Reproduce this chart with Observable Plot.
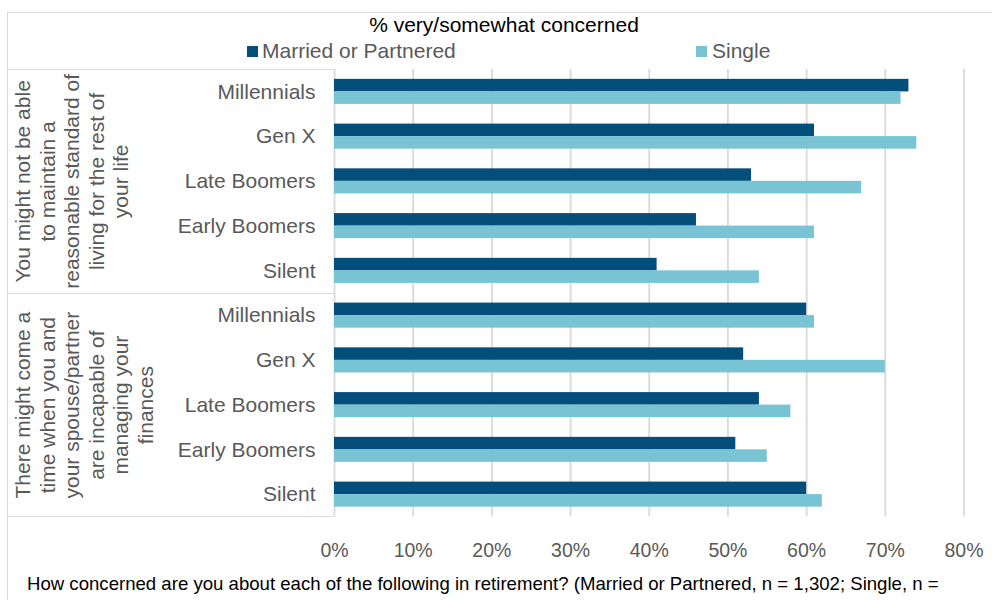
<!DOCTYPE html>
<html>
<head>
<meta charset="utf-8">
<script src="https://cdn.jsdelivr.net/npm/d3@7"></script>
<script src="https://cdn.jsdelivr.net/npm/@observablehq/plot@0.6"></script>
<style>
  html, body { margin: 0; padding: 0; background: #fff; }
  body { font-family: "Liberation Sans", Arial, sans-serif; }
  #wrap { position: relative; width: 992px; height: 600px; overflow: hidden; }
  .frame { position: absolute; left: 7px; top: 12px; width: 2000px; height: 2000px;
           border-left: 1.5px solid #d9d9d9; border-top: 1.5px solid #d9d9d9; box-sizing: border-box; }
  .hline { position: absolute; left: 7px; width: 327px; height: 0; border-top: 1.5px solid #d9d9d9; }
  .title { position: absolute; left: 504px; top: 14px; transform: translateX(-50%);
           font-size: 21px; line-height: 21px; color: #000; white-space: nowrap; }
  .sw { position: absolute; width: 11px; height: 11px; }
  .lt { position: absolute; font-size: 21px; line-height: 21px; color: #595959; white-space: nowrap; }
  .caption { position: absolute; left: 27px; top: 575px; font-size: 18.6px; line-height: 18.6px; color: #000; white-space: nowrap; }
  #chart { position: absolute; left: 0; top: 0; }
</style>
</head>
<body>
<div id="wrap">
  <div class="frame"></div>
  <div class="hline" style="top:68.5px"></div>
  <div class="hline" style="top:292.5px"></div>
  <div class="hline" style="top:516px"></div>
  <div id="chart"></div>
  <div class="title" id="title"></div>
  <div id="legend"></div>
  <div class="caption" id="caption"></div>
</div>
<script>
// ---- data ----
const chartTitle = "% very/somewhat concerned";
const captionText = "How concerned are you about each of the following in retirement? (Married or Partnered, n = 1,302; Single, n =";
const questions = [
  "You might not be able\nto maintain a\nreasonable standard of\nliving for the rest of\nyour life",
  "There might come a\ntime when you and\nyour spouse/partner\nare incapable of\nmanaging your\nfinances"
];
const generations = ["Millennials", "Gen X", "Late Boomers", "Early Boomers", "Silent"];
const seriesNames = ["Married or Partnered", "Single"];
const seriesColors = ["#044e7b", "#78c4d4"];
// values in %, question 1 (5 generations) then question 2 (5 generations)
const married = [73, 61, 53, 46, 41, 60, 52, 54, 51, 60];
const single  = [72, 74, 67, 61, 54, 61, 70, 58, 55, 62];
const xTicks = [0, 10, 20, 30, 40, 50, 60, 70, 80];

// ---- build table ----
const keys = [];
const rows = [];
questions.forEach((q, qi) => {
  generations.forEach((g, gi) => {
    const i = qi * generations.length + gi;
    const key = qi + "|" + g;
    keys.push(key);
    rows.push({key, series: seriesNames[0], value: married[i]});
    rows.push({key, series: seriesNames[1], value: single[i]});
  });
});
const groupLabels = questions.map((q, qi) => ({key: qi + "|" + generations[2], text: q}));

const chart = Plot.plot({
  width: 992,
  height: 600,
  marginTop: 69,
  marginBottom: 83.5,
  marginLeft: 334,
  marginRight: 28.5,
  style: {color: "#595959", fontFamily: "'Liberation Sans', Arial, sans-serif", background: "transparent"},
  x: {domain: [0, 80], label: null},
  y: {domain: keys, paddingInner: 0.44, paddingOuter: 0.22, round: false, label: null},
  color: {domain: seriesNames, range: seriesColors},
  marks: [
    Plot.gridX(xTicks, {stroke: "#d9d9d9", strokeOpacity: 1, strokeWidth: 1.8}),
    Plot.barX(rows.filter(d => d.series === seriesNames[0]), {x: "value", y: "key", fill: "series", insetBottom: 12.5}),
    Plot.barX(rows.filter(d => d.series === seriesNames[1]), {x: "value", y: "key", fill: "series", insetTop: 12.5}),
    Plot.axisX(xTicks, {tickSize: 0, tickPadding: 26, fontSize: 19.5, tickFormat: d => d + "%", label: null}),
    Plot.axisY({tickSize: 0, tickPadding: 19, fontSize: 21, tickFormat: k => k.split("|")[1], label: null}),
    Plot.text(groupLabels, {
      y: "key", text: "text", frameAnchor: "left", dx: -322,
      rotate: -90, textAnchor: "middle", lineAnchor: "top", lineHeight: 1.17,
      fontSize: 21, fill: "#595959"
    })
  ]
});
document.getElementById("chart").appendChild(chart);

// ---- title, legend, caption ----
document.getElementById("title").textContent = chartTitle;
const legendPos = [[247, 262], [696, 712]];
const legend = document.getElementById("legend");
seriesNames.forEach((s, i) => {
  const sw = document.createElement("div");
  sw.className = "sw";
  sw.style.left = legendPos[i][0] + "px";
  sw.style.top = "46px";
  sw.style.background = seriesColors[i];
  legend.appendChild(sw);
  const t = document.createElement("div");
  t.className = "lt";
  t.style.left = legendPos[i][1] + "px";
  t.style.top = "39.5px";
  t.textContent = s;
  legend.appendChild(t);
});
document.getElementById("caption").textContent = captionText;
</script>
</body>
</html>
